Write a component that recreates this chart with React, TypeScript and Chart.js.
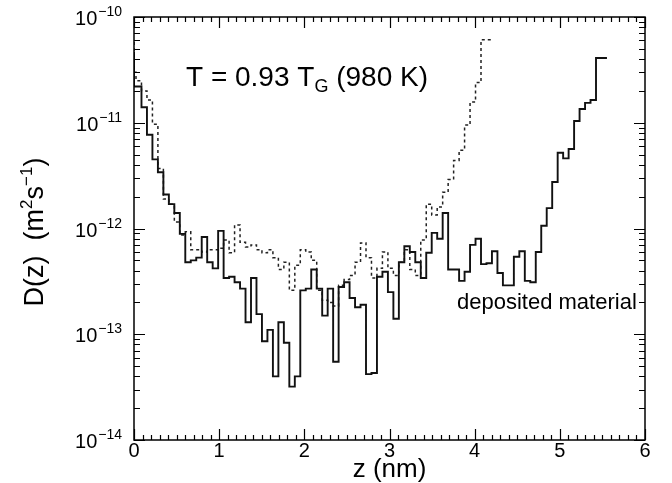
import React, { useEffect, useRef } from "react";
import { Chart, registerables } from "chart.js";

Chart.register(...registerables);

// Histogram bins along z (nm): a partial first bin [0, zStart), then bins of width binWidth
const zStart = 0.0235;
const binWidth = 0.0643;

// D(z) values (m^2 s^-1) per bin
const solidD = [
  4.7e-11, 2.2e-11, 2.2e-11, 1.4e-11, 7.7e-12, 4.5e-12, 3.4e-12, 2.1e-12, 1.7e-12, 1.4e-12,
  8.9e-13, 4.8e-13, 5.0e-13, 5.3e-13, 8.3e-13, 4.8e-13, 4.2e-13, 9.5e-13, 3.4e-13, 3.5e-13,
  3.1e-13, 2.7e-13, 1.3e-13, 3.4e-13, 1.55e-13, 8.6e-14, 1.1e-13, 4.0e-14, 1.3e-13, 8.3e-14,
  3.2e-14, 4.0e-14, 2.6e-13, 2.7e-13, 4.1e-13, 2.7e-13, 1.5e-13, 2.7e-13, 5.5e-14, 2.8e-13,
  3.1e-13, 2.2e-13, 1.8e-13, 1.9e-13, 4.2e-14, 4.3e-14, 3.5e-13, 3.9e-13, 2.5e-13, 1.4e-13,
  4.8e-13, 6.8e-13, 6.0e-13, 4.8e-13, 3.4e-13, 5.9e-13, 9.1e-13, 8.0e-13, 1.4e-12, 4.1e-13,
  4.1e-13, 3.2e-13, 3.9e-13, 7.0e-13, 8.0e-13, 4.6e-13, 4.7e-13, 6.1e-13, 3.8e-13, 2.9e-13,
  2.9e-13, 5.4e-13, 6.1e-13, 3.2e-13, 3.1e-13, 6.0e-13, 1.06e-12, 1.56e-12, 2.75e-12, 5.2e-12,
  4.6e-12, 5.65e-12, 1.04e-11, 1.35e-11, 1.54e-11, 1.64e-11, 4.1e-11,
];

const dottedD = [
  5.8e-11, 3.0e-11, 2.5e-11, 2.0e-11, 1.64e-11, 9.7e-12, 3.7e-12, 1.9e-12, 1.7e-12, 1.15e-12,
  8.7e-13, 9.3e-13, 6.3e-13, 6.3e-13, 6.0e-13, 6.3e-13, 6.3e-13, 6.5e-13, 7.8e-13, 5.9e-13,
  1.08e-12, 7.4e-13, 6.7e-13, 7.0e-13, 6.3e-13, 5.9e-13, 6.3e-13, 5.3e-13, 4.1e-13, 4.8e-13,
  2.6e-13, 4.5e-13, 6.3e-13, 6.0e-13, 5.0e-13, 2.6e-13, 2.1e-13, 2.0e-13, 1.85e-13, 2.9e-13,
  3.3e-13, 3.6e-13, 4.8e-13, 7.3e-13, 5.3e-13, 3.4e-13, 4.2e-13, 6.0e-13, 4.2e-13, 3.6e-13,
  4.8e-13, 6.3e-13, 4.1e-13, 3.6e-13, 7.8e-13, 1.7e-12, 1.34e-12, 1.6e-12, 2.2e-12, 2.9e-12,
  4.4e-12, 5.5e-12, 9.5e-12, 1.57e-11, 2.4e-11, 6.1e-11,
];

const xTickLabels = [0, 1, 2, 3, 4, 5, 6];
const yTickExponents = [-10, -11, -12, -13, -14];

const FONT = '"Liberation Sans", Arial, Helvetica, sans-serif';

function toPoints(values: number[]) {
  const pts: { x: number; y: number }[] = [];
  values.forEach((v, i) => {
    const x = i === 0 ? 0 : zStart + (i - 1) * binWidth;
    pts.push({ x, y: v });
  });
  const n = values.length - 1;
  pts.push({ x: zStart + n * binWidth, y: values[values.length - 1] });
  return pts;
}

function drawParts(
  ctx: CanvasRenderingContext2D,
  parts: { t: string; k: "n" | "sup" | "sub" }[],
  x: number,
  y: number,
  size: number,
  align: "left" | "center" | "right"
) {
  const small = Math.round(size * 0.64);
  const widths = parts.map((p) => {
    ctx.font = `${p.k === "n" ? size : small}px ${FONT}`;
    return ctx.measureText(p.t).width;
  });
  const total = widths.reduce((a, b) => a + b, 0);
  let cx = align === "left" ? x : align === "center" ? x - total / 2 : x - total;
  ctx.textAlign = "left";
  ctx.textBaseline = "alphabetic";
  parts.forEach((p, i) => {
    ctx.font = `${p.k === "n" ? size : small}px ${FONT}`;
    const dy = p.k === "sup" ? -size * 0.42 : p.k === "sub" ? size * 0.22 : 0;
    ctx.fillText(p.t, cx, y + dy);
    cx += widths[i];
  });
}

const framePlugin = {
  id: "frameAndLabels",
  afterDraw(chart: any) {
    const ctx: CanvasRenderingContext2D = chart.ctx;
    const { left, right, top, bottom } = chart.chartArea;
    const xs = chart.scales.x;
    const ys = chart.scales.y;
    ctx.save();
    ctx.strokeStyle = "#000";
    ctx.fillStyle = "#000";
    ctx.lineWidth = 1.5;
    ctx.strokeRect(left, top, right - left, bottom - top);

    ctx.lineWidth = 1.2;
    ctx.beginPath();
    // x ticks: minor every 0.1 nm, major at integers
    for (let i = 0; i <= 60; i++) {
      const v = i / 10;
      const px = Math.round(xs.getPixelForValue(v)) + 0.5;
      const len = i % 10 === 0 ? 11 : 5;
      ctx.moveTo(px, bottom);
      ctx.lineTo(px, bottom - len);
      ctx.moveTo(px, top);
      ctx.lineTo(px, top + len);
    }
    // y ticks: decades major, 2..9 minor
    for (let e = -14; e <= -10; e++) {
      for (let m = 1; m <= 9; m++) {
        if (e === -10 && m > 1) break;
        const v = m * Math.pow(10, e);
        const py = Math.round(ys.getPixelForValue(v)) + 0.5;
        const len = m === 1 ? 11 : 6;
        ctx.moveTo(left, py);
        ctx.lineTo(left + len, py);
        ctx.moveTo(right, py);
        ctx.lineTo(right - len, py);
      }
    }
    ctx.stroke();

    // x tick labels
    ctx.font = `20px ${FONT}`;
    ctx.textAlign = "center";
    ctx.textBaseline = "alphabetic";
    xTickLabels.forEach((t) => {
      ctx.fillText(String(t), xs.getPixelForValue(t), bottom + 17);
    });

    // y tick labels 10^e
    yTickExponents.forEach((e) => {
      const py = ys.getPixelForValue(Math.pow(10, e));
      ctx.font = `14px ${FONT}`;
      const sup = "\u2212" + String(-e);
      const sw = ctx.measureText(sup).width;
      ctx.textAlign = "left";
      ctx.fillText(sup, 122 - sw, py - 1);
      ctx.font = `20px ${FONT}`;
      ctx.textAlign = "right";
      ctx.fillText("10", 122 - sw - 1, py + 8);
    });

    // x title
    ctx.font = `26px ${FONT}`;
    ctx.textAlign = "center";
    ctx.fillText("z (nm)", (left + right) / 2, 477);

    // y title
    ctx.save();
    ctx.translate(43, 232);
    ctx.rotate(-Math.PI / 2);
    drawParts(
      ctx,
      [
        { t: "D(z)  (m", k: "n" },
        { t: "2", k: "sup" },
        { t: "s", k: "n" },
        { t: "\u22121", k: "sup" },
        { t: ")", k: "n" },
      ],
      0,
      0,
      27,
      "center"
    );
    ctx.restore();

    // annotation
    drawParts(
      ctx,
      [
        { t: "T = 0.93 T", k: "n" },
        { t: "G", k: "sub" },
        { t: " (980 K)", k: "n" },
      ],
      186,
      86,
      28,
      "left"
    );
    ctx.font = `22px ${FONT}`;
    ctx.textAlign = "left";
    ctx.fillText("deposited material", 457, 309);
    ctx.restore();
  },
};

export default function App() {
  const canvasRef = useRef<HTMLCanvasElement | null>(null);

  useEffect(() => {
    const canvas = canvasRef.current;
    if (!canvas) return;
    const chart = new Chart(canvas, {
      type: "line",
      data: {
        datasets: [
          {
            label: "solid",
            data: toPoints(solidD),
            stepped: "after",
            borderColor: "#111",
            borderWidth: 1.9,
            pointRadius: 0,
            fill: false,
          },
          {
            label: "dotted",
            data: toPoints(dottedD),
            stepped: "after",
            borderColor: "#222",
            borderWidth: 1.5,
            borderDash: [3, 3],
            pointRadius: 0,
            fill: false,
          },
        ],
      },
      options: {
        animation: false,
        responsive: false,
        devicePixelRatio: 1,
        layout: { padding: { left: 134, right: 27, top: 17, bottom: 43 } },
        plugins: { legend: { display: false }, tooltip: { enabled: false } },
        scales: {
          x: { type: "linear", min: 0, max: 6, display: false },
          y: { type: "logarithmic", min: 1e-14, max: 1e-10, display: false },
        },
      },
      plugins: [framePlugin],
    });
    return () => chart.destroy();
  }, []);

  return (
    <div style={{ position: "fixed", left: 0, top: 0, width: 672, height: 483, background: "#fff" }}>
      <canvas ref={canvasRef} width={672} height={483} />
    </div>
  );
}
